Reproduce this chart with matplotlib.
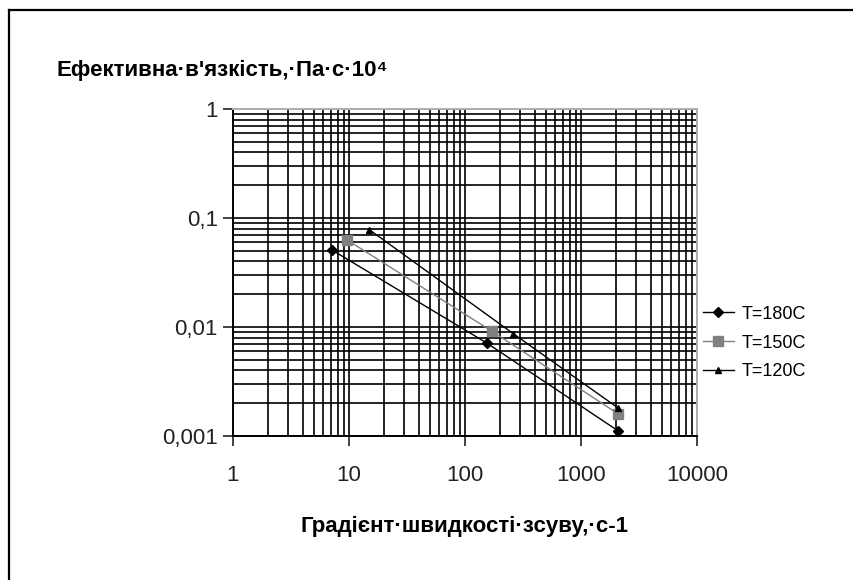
import matplotlib
matplotlib.use('Agg')
import matplotlib.pyplot as plt
from matplotlib.lines import Line2D
from matplotlib.ticker import FixedLocator, LogLocator, NullFormatter

plt.rcParams['font.family'] = ['Liberation Sans', 'DejaVu Sans']

# дані з графіка
shear_180 = [7.1, 155, 2100]
visc_180 = [0.051, 0.0071, 0.00111]
shear_150 = [9.6, 172, 2100]
visc_150 = [0.063, 0.0091, 0.00159]
shear_120 = [15, 260, 2100]
visc_120 = [0.078, 0.0087, 0.0018]
labels = ['T=180C', 'T=150C', 'T=120C']

x_ticks = [1, 10, 100, 1000, 10000]
x_tick_labels = ['1', '10', '100', '1000', '10000']
y_ticks = [0.001, 0.01, 0.1, 1]
y_tick_labels = ['0,001', '0,01', '0,1', '1']

fig = plt.figure(figsize=(8.54, 5.8), dpi=100)
ax = fig.add_axes([233 / 854, 1 - 436 / 580, (697 - 233) / 854, (436 - 109) / 580])

ax.plot(shear_180, visc_180, color='black', lw=1.0, marker='D', ms=5.5, label=labels[0])
ax.plot(shear_150, visc_150, color='#808080', lw=1.0, marker='s', ms=7, label=labels[1])
ax.plot(shear_120, visc_120, color='black', lw=1.0, marker='^', ms=5, label=labels[2])

ax.set_xscale('log')
ax.set_yscale('log')
ax.set_xlim(1, 10000)
ax.set_ylim(0.001, 1)

ax.xaxis.set_major_locator(FixedLocator(x_ticks))
ax.set_xticklabels(x_tick_labels)
ax.yaxis.set_major_locator(FixedLocator(y_ticks))
ax.set_yticklabels(y_tick_labels)
ax.xaxis.set_minor_locator(LogLocator(base=10, subs=range(2, 10)))
ax.yaxis.set_minor_locator(LogLocator(base=10, subs=range(2, 10)))
ax.xaxis.set_minor_formatter(NullFormatter())
ax.yaxis.set_minor_formatter(NullFormatter())

ax.grid(True, which='both', color='black', lw=1.2)
ax.set_axisbelow(True)
ax.tick_params(which='major', direction='out', length=7, width=1.2, labelsize=16, colors='#222222')
ax.tick_params(axis='x', pad=14)
ax.tick_params(axis='y', pad=4)
ax.tick_params(which='minor', length=0)

for s in ['left', 'bottom']:
    ax.spines[s].set_color('black')
    ax.spines[s].set_linewidth(1.4)
for s in ['top', 'right']:
    ax.spines[s].set_color('#b0b0b0')
    ax.spines[s].set_linewidth(1.4)

fig.text(57 / 854, 1 - 70 / 580, "Ефективна·в'язкість,·Па·с·10⁴", fontsize=16,
         fontweight='bold', va='center', ha='left')
fig.text(465 / 854, 1 - 526 / 580, 'Градієнт·швидкості·зсуву,·с-1', fontsize=16,
         fontweight='bold', va='center', ha='center')

fig.legend(loc='center left', bbox_to_anchor=(703 / 854, 1 - 343 / 580), frameon=False,
           fontsize=13, handlelength=1.7, labelspacing=0.65, handletextpad=0.45,
           borderpad=0, borderaxespad=0)

# рамка навколо області діаграми
fig.add_artist(Line2D([9 / 854, 1.0], [1 - 10 / 580, 1 - 10 / 580], color='black', lw=1.6))
fig.add_artist(Line2D([9 / 854, 9 / 854], [0.0, 1 - 10 / 580], color='black', lw=1.6))

fig.savefig('out.png', dpi=100)
